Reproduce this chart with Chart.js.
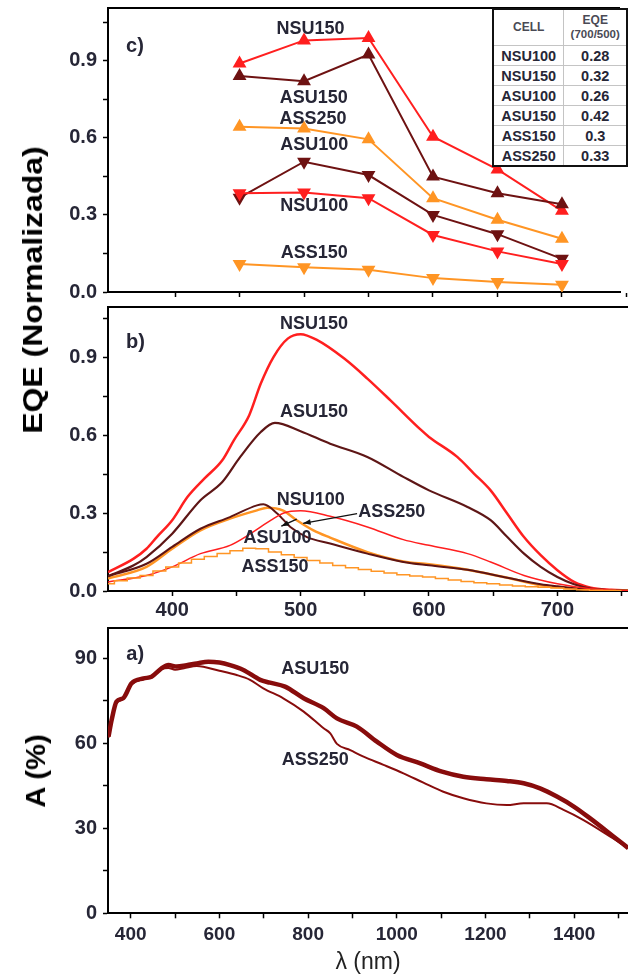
<!DOCTYPE html>
<html lang="pt-BR">
<head>
<meta charset="utf-8">
<title>EQE e absorção</title>
<script src="https://cdn.jsdelivr.net/npm/chart.js@4.4.1/dist/chart.umd.min.js"></script>
<style>
  body { margin: 0; background: #fff; width: 628px; height: 974px; position: relative; overflow: hidden;
         font-family: "Liberation Sans", Arial, sans-serif; }
  canvas { position: absolute; left: 0; }
  #grafico-c { top: 0; }
  #grafico-b { top: 300px; }
  #grafico-a { top: 624px; }
  .titulo-y { position: absolute; font-weight: bold; color: #000; white-space: nowrap; line-height: 1; }
  #tabela-razao { position: absolute; left: 492px; top: 8px; border-collapse: collapse; border: 2px solid #111;
                  background: #fff; color: #262636; font-weight: bold; font-size: 14.5px; }
  #tabela-razao th, #tabela-razao td { border: 1px solid #c4c4c4; text-align: center; padding: 0; }
  #tabela-razao th { height: 35px; font-size: 12px; color: #4a4a55; line-height: 1.1; }
  #tabela-razao th small { font-size: 11.5px; }
  #tabela-razao td { height: 19px; }
</style>
</head>
<body>
<canvas id="grafico-c" width="628" height="300"></canvas>
<canvas id="grafico-b" width="628" height="324"></canvas>
<canvas id="grafico-a" width="628" height="350"></canvas>

<div class="titulo-y" style="left:33px; top:290px; font-size:28px; transform: translate(-50%, -50%) rotate(-90deg) scale(1.14, 1);">EQE (Normalizada)</div>
<div class="titulo-y" style="left:36px; top:771px; font-size:28px; transform: translate(-50%, -50%) rotate(-90deg) scale(1.04, 1);">A (%)</div>

<table id="tabela-razao">
  <thead><tr><th style="width:70px">CELL</th><th style="width:62px">EQE<br><small>(700/500)</small></th></tr></thead>
  <tbody id="corpo-tabela"></tbody>
</table>

<script>
// ---- painel c: EQE nos comprimentos de onda discretos ----
const lambdaC = [450, 500, 550, 600, 650, 700];
const cNSU150 = [0.889, 0.979, 0.988, 0.604, 0.477, 0.316];
const cASU150 = [0.840, 0.820, 0.924, 0.449, 0.384, 0.341];
const cASS250 = [0.643, 0.636, 0.594, 0.365, 0.281, 0.207];
const cASU100 = [0.367, 0.507, 0.455, 0.300, 0.225, 0.129];
const cNSU100 = [0.384, 0.387, 0.365, 0.222, 0.158, 0.109];
const cASS150 = [0.109, 0.096, 0.087, 0.054, 0.039, 0.028];

// tabela da razão 700/500
const celulas = ["NSU100", "NSU150", "ASU100", "ASU150", "ASS150", "ASS250"];
const razao700500 = ["0.28", "0.32", "0.26", "0.42", "0.3", "0.33"];

// ---- painel b: espectros de EQE normalizados ----
const lbNSU150 = [350, 370, 380, 388, 400, 412, 425, 439, 448, 460, 469, 479, 490, 500, 513, 534, 552, 570, 594, 600, 622, 635, 648, 661, 674, 687, 700, 713, 726, 742, 755];
const bNSU150  = [0.073, 0.125, 0.163, 0.208, 0.273, 0.363, 0.433, 0.504, 0.581, 0.678, 0.80, 0.903, 0.973, 0.99, 0.967, 0.896, 0.819, 0.735, 0.62, 0.594, 0.517, 0.453, 0.388, 0.298, 0.208, 0.138, 0.08, 0.035, 0.013, 0.005, 0.002];
const lbASU150 = [350, 370, 380, 400, 422, 439, 453, 469, 480, 500, 523, 552, 580, 600, 630, 648, 661, 674, 687, 700, 713, 726, 742, 755];
const bASU150  = [0.057, 0.099, 0.131, 0.221, 0.35, 0.42, 0.517, 0.613, 0.648, 0.616, 0.568, 0.517, 0.44, 0.388, 0.324, 0.273, 0.208, 0.144, 0.093, 0.054, 0.026, 0.009, 0.003, 0.001];
const lbASU100 = [350, 380, 400, 422, 445, 466, 471, 482, 492, 505, 523, 552, 580, 600, 630, 661, 687, 700, 726, 755];
const bASU100  = [0.057, 0.105, 0.17, 0.24, 0.285, 0.33, 0.334, 0.298, 0.247, 0.208, 0.183, 0.144, 0.112, 0.099, 0.082, 0.051, 0.026, 0.018, 0.005, 0.001];
const lbASS250 = [350, 380, 400, 422, 445, 466, 474, 486, 497, 510, 523, 552, 580, 600, 630, 661, 687, 700, 726, 755];
const bASS250  = [0.048, 0.093, 0.163, 0.234, 0.279, 0.311, 0.321, 0.311, 0.273, 0.234, 0.206, 0.15, 0.114, 0.103, 0.082, 0.051, 0.022, 0.015, 0.005, 0.001];
const lbNSU100 = [350, 380, 400, 422, 445, 461, 477, 487, 500, 523, 552, 580, 600, 630, 648, 674, 700, 726, 755];
const bNSU100  = [0.035, 0.06, 0.093, 0.144, 0.176, 0.221, 0.273, 0.301, 0.309, 0.288, 0.247, 0.198, 0.176, 0.144, 0.112, 0.06, 0.028, 0.009, 0.001];
// ASS150 vem em degraus de 10 nm
const lbASS150 = [350, 360, 370, 380, 390, 400, 410, 420, 430, 440, 450, 460, 470, 480, 490, 500, 510, 520, 530, 540, 550, 560, 570, 580, 590, 600, 610, 620, 630, 640, 650, 660, 670, 680, 690, 700, 710, 720, 730, 740, 750];
const bASS150  = [0.028, 0.04, 0.05, 0.06, 0.077, 0.093, 0.108, 0.122, 0.133, 0.145, 0.155, 0.165, 0.163, 0.15, 0.14, 0.129, 0.118, 0.108, 0.098, 0.09, 0.083, 0.076, 0.069, 0.063, 0.058, 0.054, 0.048, 0.042, 0.037, 0.032, 0.028, 0.023, 0.019, 0.016, 0.014, 0.012, 0.008, 0.005, 0.003, 0.002, 0.001];

// ---- painel a: absorção (%) ----
const laASU150 = [350, 357, 368, 383, 402, 429, 447, 470, 485, 504, 526, 549, 575, 600, 624, 654, 692, 714, 748, 790, 835, 865, 910, 955, 1000, 1053, 1102, 1150, 1202, 1248, 1286, 1323, 1361, 1400, 1436, 1487, 1522];
const aASU150  = [62.4, 68.2, 74.7, 75.9, 81.2, 82.9, 83.5, 86.5, 87.6, 87.1, 87.6, 88.2, 88.8, 88.5, 87.6, 85.9, 82.4, 81.4, 80.0, 75.9, 72.4, 68.8, 65.9, 60.6, 55.9, 52.9, 50.0, 48.2, 47.3, 46.7, 45.9, 44.1, 41.2, 37.6, 33.5, 27.3, 23.0];
const laASS250 = [350, 357, 368, 383, 402, 429, 447, 470, 485, 500, 520, 549, 600, 639, 669, 699, 744, 790, 835, 850, 865, 895, 925, 970, 1015, 1060, 1105, 1150, 1202, 1248, 1286, 1338, 1376, 1421, 1487, 1522];
const aASS250  = [62.0, 68.0, 74.2, 75.6, 80.8, 82.6, 83.3, 86.2, 86.6, 86.0, 86.5, 87.3, 85.6, 84.1, 82.4, 79.4, 75.9, 71.2, 65.3, 63.5, 59.8, 57.6, 55.3, 52.4, 49.4, 46.1, 42.9, 40.6, 38.8, 38.2, 38.8, 38.8, 36.5, 32.9, 26.5, 23.0];

// ---- ticks dos eixos ----
const ticksEqe = [0, 0.15, 0.3, 0.45, 0.6, 0.75, 0.9, 1.05];
const rotulosEqe = [0, 0.3, 0.6, 0.9];
const ticksLambdaEqe = [400, 450, 500, 550, 600, 650, 700, 750];
const rotulosLambdaEqe = [400, 500, 600, 700];
const ticksAbs = [0, 15, 30, 45, 60, 75, 90];
const rotulosAbs = [0, 30, 60, 90];
const ticksLambdaAbs = [400, 500, 600, 700, 800, 900, 1000, 1100, 1200, 1300, 1400, 1500];
const rotulosLambdaAbs = [400, 600, 800, 1000, 1200, 1400];

const VERMELHO = "#ff1f1f";
const MARROM = "#6e1212";
const LARANJA = "#ff9524";
const VINHO = "#880c0c";
const COR_TEXTO = "#262636";
const FONTE = '"Liberation Sans", Arial, sans-serif';

Chart.defaults.font.family = FONTE;
Chart.defaults.color = COR_TEXTO;

// linha de cima da moldura
const molduraTopo = {
  id: "molduraTopo",
  afterDraw(chart) {
    const { ctx, chartArea: a } = chart;
    ctx.save();
    ctx.strokeStyle = "#000";
    ctx.lineWidth = 2;
    ctx.beginPath();
    ctx.moveTo(a.left - 1, a.top);
    ctx.lineTo(a.right, a.top);
    ctx.stroke();
    ctx.restore();
  }
};

// textos e setas posicionados em coordenadas de dados
const rotulos = {
  id: "rotulos",
  afterDatasetsDraw(chart, args, opts) {
    const { ctx } = chart;
    const sx = chart.scales.x, sy = chart.scales.y;
    ctx.save();
    ctx.fillStyle = COR_TEXTO;
    ctx.textBaseline = "middle";
    (opts.textos || []).forEach(t => {
      ctx.font = "bold " + (t.tam || 18) + "px " + FONTE;
      ctx.textAlign = t.alinhar || "center";
      ctx.fillText(t.texto, sx.getPixelForValue(t.x), sy.getPixelForValue(t.y));
    });
    (opts.setas || []).forEach(s => {
      const x0 = sx.getPixelForValue(s.de[0]), y0 = sy.getPixelForValue(s.de[1]);
      const x1 = sx.getPixelForValue(s.para[0]), y1 = sy.getPixelForValue(s.para[1]);
      const ang = Math.atan2(y1 - y0, x1 - x0);
      ctx.strokeStyle = "#111";
      ctx.fillStyle = "#111";
      ctx.lineWidth = 1.3;
      ctx.beginPath();
      ctx.moveTo(x0, y0);
      ctx.lineTo(x1, y1);
      ctx.stroke();
      ctx.beginPath();
      ctx.moveTo(x1, y1);
      ctx.lineTo(x1 - 8 * Math.cos(ang - 0.35), y1 - 8 * Math.sin(ang - 0.35));
      ctx.lineTo(x1 - 8 * Math.cos(ang + 0.35), y1 - 8 * Math.sin(ang + 0.35));
      ctx.closePath();
      ctx.fill();
      ctx.fillStyle = COR_TEXTO;
    });
    ctx.restore();
  }
};

function pontos(xs, ys) {
  return xs.map((x, i) => ({ x: x, y: ys[i] }));
}

// eixos com tamanho fixo, sem a folga que o Chart.js reserva para os rótulos das pontas
function eixoX(min, max, ticks, rotulosTick, altura, tamFonte, pad, titulo) {
  return {
    type: "linear", min: min, max: max,
    afterBuildTicks: s => { s.ticks = ticks.map(v => ({ value: v })); },
    afterFit: s => { s.height = altura; s.paddingLeft = 0; s.paddingRight = 0; },
    border: { display: true, color: "#000", width: 2 },
    grid: { display: true, drawOnChartArea: false, drawTicks: true, tickLength: 5, tickWidth: 1.5, tickColor: "#000" },
    ticks: {
      display: rotulosTick.length > 0, padding: pad, maxRotation: 0, autoSkip: false,
      font: { size: tamFonte, weight: "bold" }, color: COR_TEXTO,
      callback: v => rotulosTick.includes(v) ? String(v) : ""
    },
    title: titulo ? { display: true, text: titulo, font: { size: 23, lineHeight: 1 }, color: "#222", padding: 0 } : { display: false }
  };
}

function eixoY(min, max, ticks, rotulosTick, casas) {
  return {
    type: "linear", min: min, max: max,
    afterBuildTicks: s => { s.ticks = ticks.map(v => ({ value: v })); },
    afterFit: s => { s.width = 108; s.paddingTop = 0; s.paddingBottom = 0; },
    border: { display: true, color: "#000", width: 2 },
    grid: { display: true, drawOnChartArea: false, drawTicks: true, tickLength: 5, tickWidth: 1.5, tickColor: "#000" },
    ticks: {
      padding: 6, autoSkip: false,
      font: { size: 20, weight: "bold" }, color: COR_TEXTO,
      callback: v => rotulosTick.includes(v) ? v.toFixed(casas) : ""
    }
  };
}

const opcoesBase = {
  responsive: false,
  animation: false,
  events: [],
  plugins: { legend: { display: false }, tooltip: { enabled: false } }
};

function serieC(nome, valores, cor, invertido) {
  return {
    label: nome, data: pontos(lambdaC, valores),
    borderColor: cor, backgroundColor: cor, borderWidth: 2,
    pointStyle: "triangle", pointRadius: 6, pointRotation: invertido ? 180 : 0, tension: 0
  };
}

function serieCurva(nome, xs, ys, cor, largura, degrau) {
  return {
    label: nome, data: pontos(xs, ys),
    borderColor: cor, borderWidth: largura, pointRadius: 0,
    tension: degrau ? 0 : 0.4, cubicInterpolationMode: "monotone", stepped: degrau ? "middle" : false
  };
}

// painel c
new Chart(document.getElementById("grafico-c"), {
  type: "line",
  data: {
    datasets: [
      serieC("ASS150", cASS150, LARANJA, true),
      serieC("NSU100", cNSU100, VERMELHO, true),
      serieC("ASU100", cASU100, MARROM, true),
      serieC("ASS250", cASS250, LARANJA, false),
      serieC("ASU150", cASU150, MARROM, false),
      serieC("NSU150", cNSU150, VERMELHO, false)
    ]
  },
  options: Object.assign({}, opcoesBase, {
    layout: { padding: { top: 8, right: 0, bottom: 0, left: 0 } },
    scales: {
      x: eixoX(348, 745, ticksLambdaEqe, [], 6, 20, 3, null),
      y: eixoY(0, 1.105, ticksEqe, rotulosEqe, 1)
    },
    plugins: Object.assign({}, opcoesBase.plugins, {
      rotulos: {
        textos: [
          { texto: "c)", x: 362, y: 0.955, alinhar: "left", tam: 20 },
          { texto: "NSU150", x: 505, y: 1.025 },
          { texto: "ASU150", x: 507.5, y: 0.755 },
          { texto: "ASS250", x: 507, y: 0.673 },
          { texto: "ASU100", x: 508, y: 0.572 },
          { texto: "NSU100", x: 508, y: 0.333 },
          { texto: "ASS150", x: 508, y: 0.151 }
        ]
      }
    })
  }),
  plugins: [molduraTopo, rotulos]
});

// painel b
new Chart(document.getElementById("grafico-b"), {
  type: "line",
  data: {
    datasets: [
      serieCurva("ASS150", lbASS150, bASS150, LARANJA, 1.5, true),
      serieCurva("NSU100", lbNSU100, bNSU100, VERMELHO, 1.5, false),
      serieCurva("ASU100", lbASU100, bASU100, "#5e1414", 2, false),
      serieCurva("ASS250", lbASS250, bASS250, LARANJA, 2.5, false),
      serieCurva("ASU150", lbASU150, bASU150, "#5e1616", 2.2, false),
      serieCurva("NSU150", lbNSU150, bNSU150, VERMELHO, 2.5, false)
    ]
  },
  options: Object.assign({}, opcoesBase, {
    layout: { padding: { top: 7, right: 0, bottom: 0, left: 0 } },
    scales: {
      x: eixoX(350, 755, ticksLambdaEqe, rotulosLambdaEqe, 33, 20, 2, null),
      y: eixoY(0, 1.095, ticksEqe, rotulosEqe, 1)
    },
    plugins: Object.assign({}, opcoesBase.plugins, {
      rotulos: {
        textos: [
          { texto: "b)", x: 364, y: 0.96, alinhar: "left", tam: 20 },
          { texto: "NSU150", x: 510.5, y: 1.03 },
          { texto: "ASU150", x: 510.5, y: 0.69 },
          { texto: "NSU100", x: 508, y: 0.35 },
          { texto: "ASS250", x: 571, y: 0.305 },
          { texto: "ASU100", x: 482, y: 0.203 },
          { texto: "ASS150", x: 480, y: 0.093 }
        ],
        setas: [
          { de: [544, 0.298], para: [502, 0.261] },
          { de: [497, 0.277], para: [485, 0.25] }
        ]
      }
    })
  }),
  plugins: [molduraTopo, rotulos]
});

// painel a
new Chart(document.getElementById("grafico-a"), {
  type: "line",
  data: {
    datasets: [
      serieCurva("ASS250", laASS250, aASS250, VINHO, 2, false),
      serieCurva("ASU150", laASU150, aASU150, VINHO, 4.5, false)
    ]
  },
  options: Object.assign({}, opcoesBase, {
    layout: { padding: { top: 4, right: 0, bottom: 0, left: 0 } },
    scales: {
      x: eixoX(348.8, 1521.3, ticksLambdaAbs, rotulosLambdaAbs, 60.7, 19, 5, "λ (nm)"),
      y: eixoY(0, 100.7, ticksAbs, rotulosAbs, 0)
    },
    plugins: Object.assign({}, opcoesBase.plugins, {
      rotulos: {
        textos: [
          { texto: "a)", x: 390, y: 91.2, alinhar: "left", tam: 20 },
          { texto: "ASU150", x: 816, y: 86.2 },
          { texto: "ASS250", x: 816, y: 54.1 }
        ]
      }
    })
  }),
  plugins: [molduraTopo, rotulos]
});

// linhas da tabela
const corpo = document.getElementById("corpo-tabela");
celulas.forEach((c, i) => {
  const tr = document.createElement("tr");
  tr.innerHTML = "<td>" + c + "</td><td>" + razao700500[i] + "</td>";
  corpo.appendChild(tr);
});
</script>
</body>
</html>
